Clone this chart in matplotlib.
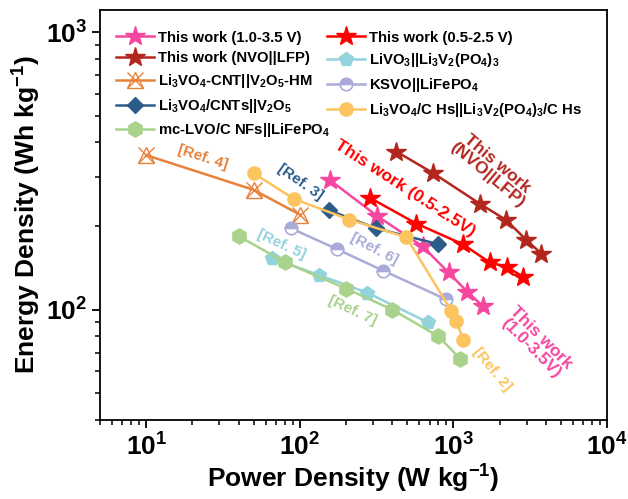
import numpy as np
import matplotlib
matplotlib.use("Agg")
import matplotlib.pyplot as plt
from matplotlib.legend_handler import HandlerTuple

plt.rcParams['font.family'] = ['Liberation Sans', 'DejaVu Sans']
plt.rcParams['font.weight'] = 'bold'
plt.rcParams['mathtext.default'] = 'regular'
plt.rcParams['axes.linewidth'] = 1.3

# data (power W/kg, energy Wh/kg)
pink_x = [158, 320, 630, 930, 1230, 1550]
pink_y = [292, 217, 169, 136, 116, 103]
red_x = [285, 575, 1150, 1720, 2250, 2860]
red_y = [253, 204, 172, 148, 142, 131]
nvo_x = [425, 740, 1480, 2210, 2990, 3740]
nvo_y = [371, 310, 241, 210, 178, 159]
ref5_x = [66, 134, 275, 680]
ref5_y = [153, 133, 115, 90]
ref4_x = [10, 50, 100]
ref4_y = [360, 270, 220]
ref6_x = [88, 175, 350, 890]
ref6_y = [196, 165, 138, 109]
ref3_x = [155, 315, 800]
ref3_y = [228, 196, 172]
ref2_x = [50, 92, 210, 495, 970, 1045, 1160]
ref2_y = [310, 250, 211, 182, 99, 91, 78]
ref7_x = [40, 80, 200, 400, 800, 1110]
ref7_y = [184, 148, 119, 100, 80, 66.5]

c_pink = '#F5479F'
c_red = '#FF0000'
c_nvo = '#B3261E'
c_cyan = '#93D3DB'
c_orange = '#E8823A'
c_purple = '#ABABDA'
c_blue = '#2E5C8A'
c_yellow = '#FBC45E'
c_green = '#A9D38C'

fig = plt.figure(figsize=(6.28, 4.99), dpi=100)
ax = fig.add_axes([0.1592, 0.1583, 0.8073, 0.8216])

lw = 1.8
h_pink, = ax.plot(pink_x, pink_y, '-*', color=c_pink, lw=lw, ms=15)
h_red, = ax.plot(red_x, red_y, '-*', color=c_red, lw=lw, ms=15)
h_nvo, = ax.plot(nvo_x, nvo_y, '-*', color=c_nvo, lw=lw, ms=15)
h_cyan, = ax.plot(ref5_x, ref5_y, '-p', color=c_cyan, lw=lw, ms=10)
h_or1, = ax.plot(ref4_x, ref4_y, '-^', color=c_orange, lw=lw, ms=11,
                 mfc='none', mew=1.0)
h_or2, = ax.plot(ref4_x, ref4_y, 'x', color=c_orange, ms=12, mew=1.0)
h_purple, = ax.plot(ref6_x, ref6_y, '-o', color=c_purple, lw=lw, ms=9,
                    fillstyle='top', mfc=c_purple, mfcalt='white', mec=c_purple, mew=1.2)
h_blue, = ax.plot(ref3_x, ref3_y, '-D', color=c_blue, lw=lw, ms=8)
h_yellow, = ax.plot(ref2_x, ref2_y, '-o', color=c_yellow, lw=lw, ms=9.5)
h_green, = ax.plot(ref7_x, ref7_y, '-h', color=c_green, lw=lw, ms=11)

ax.set_xscale('log')
ax.set_yscale('log')
ax.set_xlim(5, 1e4)
ax.set_ylim(40, 1200)

ax.tick_params(which='major', direction='out', length=6, width=1.3, labelsize=19)
ax.tick_params(which='minor', direction='out', length=3.5, width=1.1)
ax.set_xlabel(r'Power Density (W kg$^{-1}$)', fontsize=19, fontweight='bold', labelpad=2)
ax.set_ylabel(r'Energy Density (Wh kg$^{-1}$)', fontsize=19, fontweight='bold', labelpad=2)

handles = [h_pink, h_nvo, (h_or1, h_or2), h_blue, h_green,
           h_red, h_cyan, h_purple, h_yellow]
labels = ['This work (1.0-3.5 V)', 'This work (NVO||LFP)',
          r'Li$_3$VO$_4$-CNT||V$_2$O$_5$-HM', r'Li$_3$VO$_4$/CNTs||V$_2$O$_5$',
          'mc-LVO/C NFs||LiFePO$_4$',
          'This work (0.5-2.5 V)', r'LiVO$_3$||Li$_3$V$_2$(PO$_4$)$_3$',
          'KSVO||LiFePO$_4$', r'Li$_3$VO$_4$/C Hs||Li$_3$V$_2$(PO$_4$)$_3$/C Hs']
ax.legend(handles, labels, ncol=2, loc='upper left', frameon=False,
          fontsize=10.7, handlelength=2.5, handletextpad=0.3,
          columnspacing=-0.2, labelspacing=0.45, borderaxespad=0.3,
          handler_map={tuple: HandlerTuple(ndivide=1)},
          bbox_to_anchor=(0.012, 0.975))

# rotated annotations
ax.text(23.5, 354, '[Ref. 4]', color=c_orange, fontsize=11, rotation=-18,
        ha='center', va='center')
ax.text(101, 287, '[Ref. 3]', color=c_blue, fontsize=11, rotation=-35,
        ha='center', va='center')
ax.text(76, 172, '[Ref. 5]', color=c_cyan, fontsize=11, rotation=-25,
        ha='center', va='center')
ax.text(305, 166, '[Ref. 6]', color=c_purple, fontsize=11, rotation=-28,
        ha='center', va='center')
ax.text(220, 99, '[Ref. 7]', color=c_green, fontsize=11, rotation=-25,
        ha='center', va='center')
ax.text(1795, 60.7, '[Ref. 2]', color=c_yellow, fontsize=11, rotation=-50,
        ha='center', va='center')
ax.text(3450, 76, 'This work\n(1.0-3.5V)', color=c_pink, fontsize=12.5,
        rotation=-45, ha='center', va='center', multialignment='center',
        linespacing=1.0)
ax.text(487, 274, 'This work (0.5-2.5V)', color=c_red, fontsize=12.5,
        rotation=-33, ha='center', va='center')
ax.text(1800, 320, 'This work\n(NVO||LFP)', color=c_nvo, fontsize=12.5,
        rotation=-40, ha='center', va='center', multialignment='center',
        linespacing=1.0)

fig.savefig('out.png', dpi=100)
